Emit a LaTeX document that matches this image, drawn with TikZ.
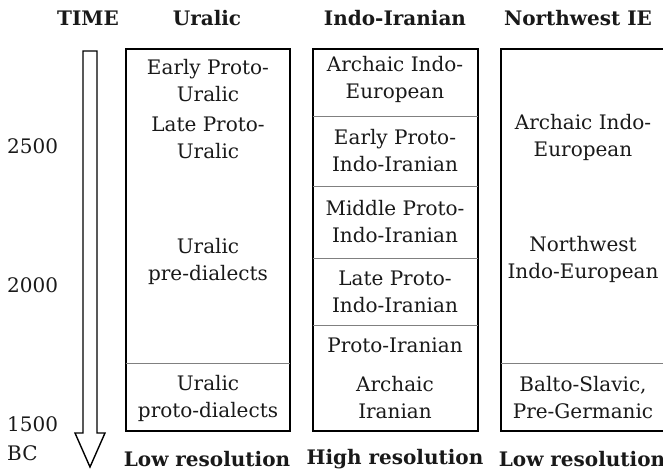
\documentclass[tikz,border=0pt]{standalone}
\usepackage{fontspec}
\setmainfont{DejaVu Serif}

\begin{document}
\begin{tikzpicture}[x=1pt, y=-1pt, every node/.style={font=\fontsize{20}{27}\selectfont, align=center, inner sep=0pt, text=black!90},
	head/.style={font=\fontsize{20}{27}\selectfont\bfseries}]
	\useasboundingbox (0,0) rectangle (663,471);
	% the three columns
	\draw[line width=1.6pt] (126,49) rectangle (290,431);
	\draw[line width=1.6pt] (313,49) rectangle (478,431);
	\draw[line width=1.6pt] (501,49) rectangle (690,431);
	\draw[gray] (126,363) -- (290,363);
	\foreach \y in {116,186,258,325} \draw[gray] (313,\y) -- (478,\y);
	\draw[gray] (501,363) -- (690,363);
	% time arrow
	\draw[line width=1.4pt, line join=miter] (83,51) -- (97,51) -- (97,433) -- (105,433) -- (90,467) -- (75,433) -- (83,433) -- cycle;
	% headers and footers
	\foreach \name/\x/\lab in {time/88/TIME, ural/207/Uralic, indir/395/Indo-Iranian, nwie/578/Northwest IE}
		\node[head] (h-\name) at (\x,18) {\lab};
	\foreach \name/\x/\lab in {ural/207/Low resolution, indir/395/High resolution, nwie/582/Low resolution}
		\node[head] (f-\name) at (\x,459) {\lab};
	% years
	\foreach \name/\y/\lab in {y2500/146/2500, y2000/285/2000, y1500/424/1500, bc/453/BC}
		\node[anchor=west] (\name) at (7,\y) {\lab};
	% stages
	\foreach \name/\x/\y/\lab in {
		epu/208/81/{Early Proto-\\Uralic},
		lpu/208/138/{Late Proto-\\Uralic},
		upre/208/261/{Uralic\\pre-dialects},
		uproto/208/398/{Uralic\\proto-dialects},
		aie/395/79/{Archaic Indo-\\European},
		epii/395/151/{Early Proto-\\Indo-Iranian},
		mpii/395/222/{Middle Proto-\\Indo-Iranian},
		lpii/395/292/{Late Proto-\\Indo-Iranian},
		pir/395/345/{Proto-Iranian},
		air/395/398/{Archaic\\Iranian},
		nwaie/583/137/{Archaic Indo-\\European},
		nwie/583/259/{Northwest\\Indo-European},
		bsg/583/398/{Balto-Slavic,\\Pre-Germanic}}
		\node (\name) at (\x,\y) {\lab};
\end{tikzpicture}
\end{document}
